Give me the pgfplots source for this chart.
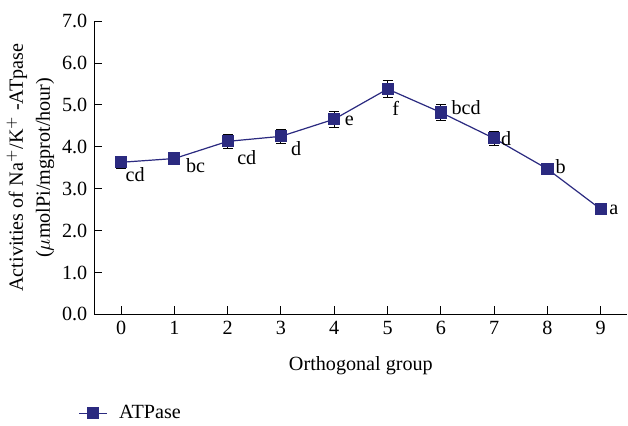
\documentclass[border=0pt]{standalone}
\usepackage{pgfplots}
\pgfplotsset{compat=1.18}
\usepackage{fontspec}
\setmainfont{Liberation Serif}
\definecolor{navy}{RGB}{43,42,128}
\begin{document}
\begin{tikzpicture}[font=\fontsize{10}{12}\selectfont]
\begin{axis}[
  scale only axis, width=264.5pt, height=145.5pt,
  axis x line*=bottom, axis y line*=left,
  axis line style={black, line width=0.6pt},
  xmin=-0.5, xmax=9.5, ymin=0, ymax=7,
  xtick={0,...,9}, ytick={0,1,...,7},
  tick align=inside, tick style={black, line width=0.5pt},
  major tick length=4pt,
  yticklabel style={/pgf/number format/.cd, fixed, fixed zerofill, precision=1},
  /pgf/number format/assume math mode=true,
  xlabel={Orthogonal group},
  xlabel style={yshift=-4pt},
  ylabel={Activities of Na$^+$/K$^+$ -ATpase\\($\mu$molPi/mgprot/hour)},
  ylabel style={align=center, font=\fontsize{10}{13.5}\selectfont, yshift=-3pt},
  legend style={draw=none, inner sep=0pt, outer sep=0pt, at={(-0.03,-0.337)}, anchor=west, font=\fontsize{10}{12}\selectfont},
  legend cell align=left,
  legend image code/.code={\draw[mark repeat=2,mark phase=2,#1] plot coordinates {(0cm,0cm) (0.24cm,0cm) (0.48cm,0cm)};},
  clip=false,
]
\addplot[color=navy, line width=0.6pt, mark=square*, mark size=2.7pt,
  mark options={fill=navy, draw=navy},
  error bars/.cd, y dir=both, y explicit,
  error bar style={black, line width=0.5pt},
  error mark options={rotate=90, mark size=2.5pt, black, line width=0.5pt}]
coordinates {
(0,3.63) +- (0,0.15)
(1,3.72) +- (0,0.13)
(2,4.13) +- (0,0.17)
(3,4.25) +- (0,0.17)
(4,4.66) +- (0,0.19)
(5,5.38) +- (0,0.21)
(6,4.82) +- (0,0.19)
(7,4.20) +- (0,0.16)
(8,3.47) +- (0,0.08)
(9,2.51) +- (0,0.04)
};
\addlegendentry{\hspace{4pt}ATPase}
\node at (axis cs:0,3.63) [xshift=7pt,yshift=-6pt] {cd};
\node at (axis cs:1,3.72) [xshift=10.5pt,yshift=-3.5pt] {bc};
\node at (axis cs:2,4.13) [xshift=9.5pt,yshift=-8pt] {cd};
\node at (axis cs:3,4.25) [xshift=7.5pt,yshift=-6pt] {d};
\node at (axis cs:4,4.66) [xshift=7.5pt,yshift=-1pt] {e};
\node at (axis cs:5,5.38) [xshift=4pt,yshift=-9.5pt] {f};
\node at (axis cs:6,4.82) [xshift=12.5pt,yshift=2.5pt] {bcd};
\node at (axis cs:7,4.20) [xshift=6pt,yshift=0pt] {d};
\node at (axis cs:8,3.47) [xshift=6.5pt,yshift=1pt] {b};
\node at (axis cs:9,2.51) [xshift=6.5pt,yshift=-0.5pt] {a};
\coordinate (topc) at (rel axis cs:0,1);
\coordinate (botc) at (rel axis cs:0,0);
\end{axis}
\path ([yshift=10.5pt]topc) ([yshift=-54pt]botc);
\end{tikzpicture}
\end{document}
